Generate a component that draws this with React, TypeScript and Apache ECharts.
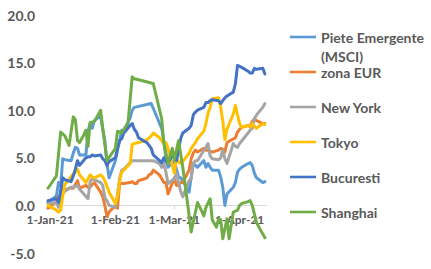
import React, { useEffect, useRef } from "react";
import * as echarts from "echarts";

// Axis ticks / labels
const tickDates = ["2021-01-01", "2021-02-01", "2021-03-01", "2021-04-01"];
const monthNames = ["Jan", "Feb", "Mar", "Apr", "May", "Jun", "Jul", "Aug", "Sep", "Oct", "Nov", "Dec"];
const xMin = "2020-12-31";
const xMax = "2021-04-14";
const yMin = -5;
const yMax = 20;
const yStep = 5;

const seriesNames = [
  "Piete Emergente (MSCI)",
  "zona EUR",
  "New York",
  "Tokyo",
  "Bucuresti",
  "Shanghai",
];
const seriesColors = ["#5B9BD5", "#ED7D31", "#A5A5A5", "#FFC000", "#4472C4", "#70AD47"];

const pieteData: [string, number][] = [
  ["2020-12-31", 0.3], ["2021-01-04", 1.0], ["2021-01-05", 2.4], ["2021-01-06", 2.0], ["2021-01-07", 4.9],
  ["2021-01-08", 4.8], ["2021-01-11", 4.7], ["2021-01-12", 5.5], ["2021-01-13", 6.1], ["2021-01-14", 6.0],
  ["2021-01-15", 5.3], ["2021-01-18", 5.3], ["2021-01-19", 7.8], ["2021-01-20", 8.6], ["2021-01-21", 8.1],
  ["2021-01-22", 8.9], ["2021-01-25", 9.4], ["2021-01-26", 8.0], ["2021-01-27", 6.8], ["2021-01-28", 4.4],
  ["2021-01-29", 2.9], ["2021-02-01", 4.7], ["2021-02-02", 5.8], ["2021-02-03", 6.8], ["2021-02-04", 7.9],
  ["2021-02-05", 7.7], ["2021-02-08", 9.2], ["2021-02-09", 10.0], ["2021-02-10", 10.3], ["2021-02-18", 10.7],
  ["2021-02-19", 10.2], ["2021-02-22", 8.6], ["2021-02-23", 8.1], ["2021-02-24", 6.8], ["2021-02-25", 5.0],
  ["2021-02-26", 4.0], ["2021-03-01", 4.7], ["2021-03-02", 3.8], ["2021-03-03", 3.0], ["2021-03-04", 2.9],
  ["2021-03-05", 2.6], ["2021-03-08", 1.4], ["2021-03-09", 3.0], ["2021-03-10", 4.4], ["2021-03-11", 4.2],
  ["2021-03-12", 4.0], ["2021-03-15", 4.7], ["2021-03-16", 4.0], ["2021-03-17", 4.4], ["2021-03-18", 4.0],
  ["2021-03-19", 3.7], ["2021-03-22", 3.7], ["2021-03-23", 3.0], ["2021-03-24", 1.9], ["2021-03-25", 0.0],
  ["2021-03-26", 1.2], ["2021-03-29", 1.9], ["2021-03-30", 2.4], ["2021-03-31", 3.5], ["2021-04-01", 3.8],
  ["2021-04-02", 4.0], ["2021-04-05", 4.4], ["2021-04-06", 4.5], ["2021-04-07", 4.2], ["2021-04-08", 3.4],
  ["2021-04-09", 2.9], ["2021-04-12", 2.4], ["2021-04-13", 2.5],
];

const eurData: [string, number][] = [
  ["2020-12-31", -0.3], ["2021-01-04", 0.4], ["2021-01-05", 0.9], ["2021-01-06", 0.5], ["2021-01-07", 1.2],
  ["2021-01-08", 1.6], ["2021-01-11", 1.9], ["2021-01-12", 1.8], ["2021-01-13", 2.2], ["2021-01-14", 2.6],
  ["2021-01-15", 1.8], ["2021-01-18", 2.1], ["2021-01-19", 1.9], ["2021-01-20", 1.9], ["2021-01-21", 2.2],
  ["2021-01-22", 2.4], ["2021-01-25", 1.4], ["2021-01-26", 0.9], ["2021-01-27", 0.0], ["2021-01-28", -1.2],
  ["2021-01-29", -0.7], ["2021-02-01", 0.0], ["2021-02-02", -0.3], ["2021-02-03", 2.3], ["2021-02-04", 2.3],
  ["2021-02-05", 2.3], ["2021-02-08", 2.4], ["2021-02-09", 2.5], ["2021-02-10", 2.3], ["2021-02-11", 2.3],
  ["2021-02-12", 2.6], ["2021-02-15", 2.8], ["2021-02-16", 2.9], ["2021-02-17", 3.2], ["2021-02-18", 3.3],
  ["2021-02-19", 3.7], ["2021-02-22", 3.2], ["2021-02-23", 2.8], ["2021-02-24", 2.4], ["2021-02-25", 2.4],
  ["2021-02-26", 1.2], ["2021-03-01", 2.9], ["2021-03-02", 2.1], ["2021-03-03", 2.1], ["2021-03-04", 2.4],
  ["2021-03-05", 2.4], ["2021-03-08", 3.7], ["2021-03-09", 4.9], ["2021-03-10", 5.5], ["2021-03-11", 5.8],
  ["2021-03-12", 5.6], ["2021-03-15", 6.0], ["2021-03-16", 5.8], ["2021-03-17", 5.8], ["2021-03-18", 5.7],
  ["2021-03-19", 5.6], ["2021-03-22", 5.8], ["2021-03-23", 6.0], ["2021-03-24", 5.9], ["2021-03-25", 5.6],
  ["2021-03-26", 6.6], ["2021-03-29", 7.0], ["2021-03-30", 7.1], ["2021-03-31", 7.7], ["2021-04-01", 8.0],
  ["2021-04-02", 8.2], ["2021-04-05", 8.4], ["2021-04-06", 8.4], ["2021-04-07", 8.8], ["2021-04-08", 9.1],
  ["2021-04-09", 8.9], ["2021-04-12", 8.6], ["2021-04-13", 8.6],
];

const nyData: [string, number][] = [
  ["2020-12-31", 0.2], ["2021-01-04", 0.3], ["2021-01-05", -0.2], ["2021-01-06", 1.0], ["2021-01-07", 1.9],
  ["2021-01-08", 1.5], ["2021-01-11", 1.9], ["2021-01-12", 1.9], ["2021-01-13", 2.0], ["2021-01-14", 2.1],
  ["2021-01-15", 1.7], ["2021-01-19", 0.7], ["2021-01-20", 2.5], ["2021-01-21", 2.8], ["2021-01-22", 2.7],
  ["2021-01-25", 2.4], ["2021-01-26", 2.1], ["2021-01-27", 0.8], ["2021-01-28", 0.5], ["2021-01-29", 0.0],
  ["2021-02-01", -0.2], ["2021-02-02", 1.2], ["2021-02-03", 2.8], ["2021-02-04", 3.7], ["2021-02-05", 3.8],
  ["2021-02-08", 4.5], ["2021-02-09", 4.7], ["2021-02-10", 4.7], ["2021-02-19", 4.7], ["2021-02-22", 4.4],
  ["2021-02-23", 4.0], ["2021-02-24", 4.4], ["2021-02-25", 3.5], ["2021-02-26", 2.3], ["2021-03-01", 2.8],
  ["2021-03-02", 3.4], ["2021-03-03", 2.4], ["2021-03-04", 1.5], ["2021-03-05", 0.9], ["2021-03-08", 2.6],
  ["2021-03-09", 2.8], ["2021-03-10", 4.4], ["2021-03-11", 4.7], ["2021-03-12", 4.7], ["2021-03-15", 5.8],
  ["2021-03-16", 6.1], ["2021-03-17", 6.5], ["2021-03-18", 5.2], ["2021-03-19", 4.9], ["2021-03-22", 4.8],
  ["2021-03-23", 5.0], ["2021-03-24", 5.8], ["2021-03-25", 4.9], ["2021-03-26", 4.4], ["2021-03-29", 6.5],
  ["2021-03-30", 6.2], ["2021-03-31", 6.1], ["2021-04-01", 6.5], ["2021-04-05", 7.6], ["2021-04-06", 7.9],
  ["2021-04-07", 8.1], ["2021-04-08", 9.1], ["2021-04-09", 9.5], ["2021-04-12", 10.3], ["2021-04-13", 10.7],
];

const tokyoData: [string, number][] = [
  ["2020-12-31", 0.0], ["2021-01-04", -0.5], ["2021-01-05", -0.7], ["2021-01-06", -0.5], ["2021-01-07", 1.0],
  ["2021-01-08", 2.2], ["2021-01-12", 3.3], ["2021-01-13", 3.5], ["2021-01-14", 3.8], ["2021-01-15", 3.2],
  ["2021-01-18", 2.4], ["2021-01-19", 2.8], ["2021-01-20", 3.2], ["2021-01-21", 3.0], ["2021-01-22", 2.9],
  ["2021-01-25", 3.2], ["2021-01-26", 3.0], ["2021-01-27", 2.6], ["2021-01-28", 2.0], ["2021-01-29", 1.4],
  ["2021-02-01", 0.2], ["2021-02-02", 0.9], ["2021-02-03", 2.5], ["2021-02-04", 3.5], ["2021-02-05", 3.7],
  ["2021-02-08", 4.4], ["2021-02-09", 6.4], ["2021-02-10", 6.5], ["2021-02-12", 6.6], ["2021-02-15", 6.8],
  ["2021-02-16", 6.9], ["2021-02-17", 7.1], ["2021-02-18", 7.3], ["2021-02-19", 7.6], ["2021-02-22", 7.1],
  ["2021-02-24", 6.5], ["2021-02-25", 6.6], ["2021-02-26", 6.0], ["2021-03-01", 3.4], ["2021-03-02", 4.9],
  ["2021-03-03", 4.6], ["2021-03-04", 4.4], ["2021-03-05", 4.6], ["2021-03-08", 5.5], ["2021-03-09", 6.0],
  ["2021-03-10", 6.3], ["2021-03-11", 6.6], ["2021-03-12", 7.0], ["2021-03-15", 7.8], ["2021-03-16", 8.6],
  ["2021-03-17", 9.7], ["2021-03-18", 10.3], ["2021-03-19", 11.2], ["2021-03-22", 11.3], ["2021-03-23", 10.3],
  ["2021-03-24", 8.9], ["2021-03-25", 6.9], ["2021-03-26", 8.0], ["2021-03-29", 9.6], ["2021-03-30", 10.5],
  ["2021-03-31", 9.5], ["2021-04-01", 8.6], ["2021-04-02", 8.2], ["2021-04-05", 8.4], ["2021-04-06", 8.2],
  ["2021-04-07", 8.6], ["2021-04-08", 8.3], ["2021-04-09", 8.1], ["2021-04-12", 8.6], ["2021-04-13", 8.5],
];

const bucData: [string, number][] = [
  ["2020-12-31", 0.5], ["2021-01-04", 0.7], ["2021-01-05", 0.3], ["2021-01-06", 1.5], ["2021-01-07", 2.9],
  ["2021-01-08", 2.7], ["2021-01-11", 2.5], ["2021-01-12", 3.1], ["2021-01-13", 3.8], ["2021-01-14", 4.7],
  ["2021-01-15", 4.2], ["2021-01-18", 5.0], ["2021-01-19", 5.1], ["2021-01-20", 5.1], ["2021-01-21", 5.3],
  ["2021-01-22", 5.2], ["2021-01-25", 5.3], ["2021-01-26", 4.9], ["2021-01-27", 4.7], ["2021-01-28", 4.2],
  ["2021-01-29", 4.6], ["2021-02-01", 5.0], ["2021-02-02", 6.0], ["2021-02-03", 6.8], ["2021-02-04", 7.0],
  ["2021-02-05", 7.6], ["2021-02-08", 8.4], ["2021-02-09", 8.6], ["2021-02-10", 8.0], ["2021-02-11", 7.7],
  ["2021-02-12", 7.1], ["2021-02-15", 6.7], ["2021-02-16", 6.6], ["2021-02-17", 6.3], ["2021-02-18", 6.0],
  ["2021-02-19", 5.3], ["2021-02-22", 4.7], ["2021-02-23", 4.5], ["2021-02-24", 5.0], ["2021-02-25", 4.6],
  ["2021-02-26", 4.5], ["2021-03-01", 5.5], ["2021-03-02", 4.7], ["2021-03-03", 5.8], ["2021-03-04", 7.0],
  ["2021-03-05", 7.6], ["2021-03-08", 8.1], ["2021-03-09", 8.4], ["2021-03-10", 9.5], ["2021-03-11", 9.8],
  ["2021-03-12", 10.0], ["2021-03-15", 10.3], ["2021-03-16", 10.8], ["2021-03-17", 10.8], ["2021-03-18", 11.0],
  ["2021-03-19", 11.1], ["2021-03-22", 11.0], ["2021-03-23", 10.7], ["2021-03-24", 11.0], ["2021-03-25", 11.3],
  ["2021-03-26", 11.5], ["2021-03-29", 11.9], ["2021-03-30", 12.8], ["2021-03-31", 14.7], ["2021-04-01", 14.6],
  ["2021-04-02", 14.5], ["2021-04-05", 14.1], ["2021-04-06", 13.9], ["2021-04-07", 13.9], ["2021-04-08", 14.4],
  ["2021-04-09", 14.3], ["2021-04-12", 14.4], ["2021-04-13", 13.8],
];

const shanghaiData: [string, number][] = [
  ["2020-12-31", 1.8], ["2021-01-04", 3.1], ["2021-01-06", 7.7], ["2021-01-08", 7.3], ["2021-01-10", 6.3],
  ["2021-01-12", 9.3], ["2021-01-13", 9.0], ["2021-01-14", 6.8], ["2021-01-15", 6.6], ["2021-01-17", 7.4],
  ["2021-01-18", 7.9], ["2021-01-19", 6.2], ["2021-01-20", 8.7], ["2021-01-22", 8.8], ["2021-01-25", 10.0],
  ["2021-01-26", 8.1], ["2021-01-28", 4.7], ["2021-02-01", 6.0], ["2021-02-02", 7.8], ["2021-02-04", 7.6],
  ["2021-02-07", 8.7], ["2021-02-09", 13.5], ["2021-02-10", 13.3], ["2021-02-12", 13.2], ["2021-02-19", 12.8],
  ["2021-02-23", 9.1], ["2021-02-24", 6.5], ["2021-02-25", 5.5], ["2021-02-26", 4.4], ["2021-02-28", 6.0],
  ["2021-03-01", 4.8], ["2021-03-03", 6.8], ["2021-03-05", 4.0], ["2021-03-07", 0.7], ["2021-03-09", -2.8],
  ["2021-03-12", 0.3], ["2021-03-14", -0.6], ["2021-03-15", -1.1], ["2021-03-16", -0.2], ["2021-03-18", 0.7],
  ["2021-03-19", -1.5], ["2021-03-21", -2.3], ["2021-03-22", -1.4], ["2021-03-23", -1.5], ["2021-03-24", -3.5],
  ["2021-03-26", -1.4], ["2021-03-27", -3.5], ["2021-03-29", -0.7], ["2021-03-31", -0.5], ["2021-04-01", 0.0],
  ["2021-04-02", 0.2], ["2021-04-05", 0.4], ["2021-04-06", 0.5], ["2021-04-07", 0.0], ["2021-04-08", -0.9],
  ["2021-04-09", -1.8], ["2021-04-11", -2.6], ["2021-04-12", -3.0], ["2021-04-13", -3.4],
];

const allData = [pieteData, eurData, nyData, tokyoData, bucData, shanghaiData];

const toTime = (s: string) => {
  const [y, m, d] = s.split("-").map(Number);
  return new Date(y, m - 1, d).getTime();
};

const FONT = "Lato";
const TEXT_COLOR = "#595959";
const GRID_TOP = 15;
const GRID_BOTTOM = 16;
const HEIGHT = 269;

export default function App() {
  const ref = useRef<HTMLDivElement>(null);

  useEffect(() => {
    if (!ref.current) return;
    const chart = echarts.init(ref.current, undefined, { renderer: "svg" });
    const tickValues = tickDates.map(toTime);
    // move the date axis up to the zero line (Excel "axis crosses at 0")
    const plotH = HEIGHT - GRID_TOP - GRID_BOTTOM;
    const zeroOffset = -plotH * ((0 - yMin) / (yMax - yMin));
    chart.setOption({
      animation: false,
      backgroundColor: "#ffffff",
      textStyle: { fontFamily: FONT },
      grid: { left: 48, right: 164, top: GRID_TOP, bottom: GRID_BOTTOM, containLabel: false },
      legend: {
        orient: "vertical",
        left: 290,
        top: 29,
        padding: 0,
        itemWidth: 26,
        itemHeight: 14,
        itemGap: 19,
        icon: "path://M0,6 L26,6 L26,8.6 L0,8.6 Z",
        selectedMode: false,
        data: seriesNames,
        formatter: (name: string) => (name === seriesNames[0] ? "Piete Emergente" : name),
        textStyle: { fontFamily: FONT, fontSize: 14, fontWeight: "bold", color: TEXT_COLOR, lineHeight: 16 },
      },
      graphic: [
        {
          type: "text",
          left: 321,
          top: 49,
          style: { text: "(MSCI)", fill: TEXT_COLOR, font: `bold 14px ${FONT}` },
        },
      ],
      xAxis: {
        type: "value",
        min: toTime(xMin),
        max: toTime(xMax),
        offset: zeroOffset,
        splitLine: { show: false },
        axisLine: { show: true, onZero: false, lineStyle: { color: "#D9D9D9", width: 1 } },
        axisTick: { show: true, length: 4, lineStyle: { color: "#D9D9D9" }, customValues: tickValues },
        axisLabel: {
          customValues: tickValues,
          margin: 8,
          fontFamily: FONT,
          fontSize: 12,
          fontWeight: "bold",
          color: TEXT_COLOR,
          hideOverlap: false,
          formatter: (v: number) => {
            const d = new Date(v);
            return `${d.getDate()}-${monthNames[d.getMonth()]}-${String(d.getFullYear()).slice(2)}`;
          },
        },
      },
      yAxis: {
        type: "value",
        min: yMin,
        max: yMax,
        interval: yStep,
        splitLine: { show: false },
        axisLine: { show: false },
        axisTick: { show: false },
        axisLabel: {
          margin: 13,
          fontFamily: FONT,
          fontSize: 14,
          fontWeight: "bold",
          color: TEXT_COLOR,
          formatter: (v: number) => v.toFixed(1),
        },
      },
      series: seriesNames.map((name, i) => ({
        name,
        type: "line",
        data: allData[i].map(([d, v]) => [toTime(d), v]),
        symbol: "none",
        color: seriesColors[i],
        lineStyle: { width: 3, color: seriesColors[i], cap: "round", join: "round" },
        itemStyle: { color: seriesColors[i] },
      })),
    });
    return () => chart.dispose();
  }, []);

  return (
    <div
      ref={ref}
      style={{ position: "fixed", left: 0, top: 0, width: 431, height: 269, background: "#fff" }}
    />
  );
}
